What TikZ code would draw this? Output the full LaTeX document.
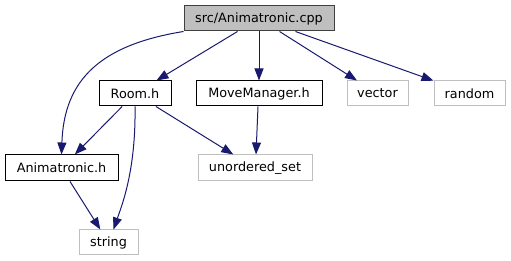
\documentclass[tikz,border=0pt]{standalone}
\usepackage{fontspec}
\setmainfont{DejaVu Sans}
\usetikzlibrary{arrows.meta}
\definecolor{edgeblue}{HTML}{191970}
\definecolor{extgrey}{HTML}{BFBFBF}
\definecolor{topfill}{HTML}{BFBFBF}
\definecolor{topline}{HTML}{404040}
\begin{document}
\begin{tikzpicture}[x=1pt,y=-1pt,
  box/.style={draw=black, line width=1pt, minimum height=25pt, inner sep=0pt,
    font=\fontsize{12.8}{14}\selectfont},
  ext/.style={box, draw=extgrey},
  rootbox/.style={box, fill=topfill, draw=topline},
  dep/.style={draw=edgeblue, line width=1pt, -{Triangle[length=12pt,width=9pt]}}]
\useasboundingbox (0,0) rectangle (511,261);

% include graph nodes
\node[rootbox, minimum width=150pt] (top) at (259,18.5) {src/Animatronic.cpp};
\node[box, minimum width=72pt] (room) at (135,93.5) {Room.h};
\node[box, minimum width=126pt] (move) at (259,93.5) {MoveManager.h};
\node[ext, minimum width=61pt] (vec) at (377.5,93.5) {vector};
\node[ext, minimum width=71pt] (rnd) at (469.5,93.5) {random};
\node[box, minimum width=113pt, minimum height=26pt] (anim) at (61.5,168) {Animatronic.h};
\node[ext, minimum width=114pt, minimum height=26pt] (uset) at (255,168) {unordered\_set};
\node[ext, minimum width=59pt] (str) at (108.5,242.5) {string};

% include edges
\draw[dep] (top) -- (room);
\draw[dep] (top) -- (move);
\draw[dep] (top) -- (vec);
\draw[dep] (top) -- (rnd);
\draw[dep] (top.south west) .. controls (100,45) and (64,80) .. (anim.north);
\draw[dep] (room) -- (anim);
\draw[dep] (room.south) .. controls (136,170) and (122,205) .. ([xshift=5pt]str.north);
\draw[dep] (room) -- (uset);
\draw[dep] ([xshift=-1pt]move.south) -- ([xshift=1pt]uset.north);
\draw[dep] (anim) -- (str);
\end{tikzpicture}
\end{document}
